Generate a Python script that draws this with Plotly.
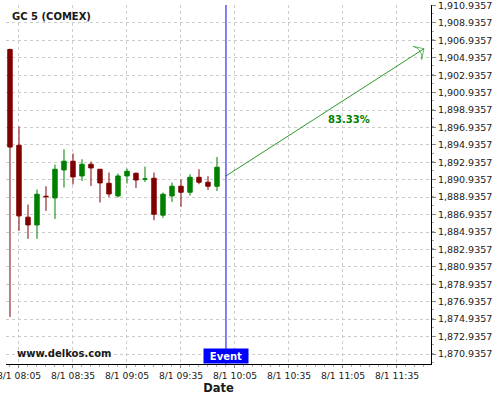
import plotly.graph_objects as go
import pandas as pd

# ---- data ----
times = pd.date_range("2023-08-01 08:00", periods=24, freq="5min")
opens  = [1905.89, 1894.89, 1886.64, 1885.75, 1889.04, 1888.85, 1892.06, 1893.06,
          1891.37, 1892.71, 1892.14, 1890.53, 1889.08, 1891.37, 1891.68, 1891.00,
          1891.11, 1886.87, 1889.08, 1890.19, 1889.50, 1891.22, 1890.65, 1890.19]
highs  = [1905.97, 1897.03, 1888.09, 1889.81, 1890.19, 1892.68, 1894.43, 1893.94,
          1893.29, 1893.02, 1892.14, 1891.76, 1891.65, 1892.22, 1891.76, 1892.45,
          1891.76, 1889.47, 1890.61, 1890.96, 1891.57, 1892.14, 1891.34, 1893.55]
lows   = [1875.18, 1885.07, 1884.15, 1884.15, 1887.36, 1886.44, 1890.04, 1890.39,
          1890.80, 1890.22, 1888.32, 1888.96, 1888.90, 1890.50, 1890.00, 1890.68,
          1886.29, 1886.56, 1888.39, 1887.82, 1889.12, 1890.42, 1889.77, 1889.65]
closes = [1894.69, 1886.79, 1885.75, 1889.27, 1888.99, 1892.14, 1893.06, 1891.26,
          1892.71, 1892.29, 1890.57, 1889.31, 1891.37, 1891.91, 1890.91, 1891.03,
          1886.98, 1889.27, 1890.19, 1889.50, 1891.22, 1890.65, 1890.19, 1892.37]

event_time = "2023-08-01 10:00"
arrow_times = ["2023-08-01 10:00", "2023-08-01 11:50"]
arrow_prices = [1891.37, 1905.97]
probability_label = "83.33%"
title_text = "GC 5 (COMEX)"

RED = "#800000"
GREEN = "#008000"

fig = go.Figure()
fig.add_trace(go.Candlestick(
    x=times, open=opens, high=highs, low=lows, close=closes,
    increasing=dict(line=dict(color=GREEN, width=1), fillcolor=GREEN),
    decreasing=dict(line=dict(color=RED, width=1), fillcolor=RED),
    whiskerwidth=0, showlegend=False, hoverinfo="skip",
))

fig.add_trace(go.Scatter(
    x=arrow_times, y=arrow_prices, mode="lines+markers",
    line=dict(color="#2a9a2a", width=1),
    marker=dict(symbol="arrow-wide-open", size=[0, 11], angleref="previous",
                color="#2a9a2a", line=dict(color="#2a9a2a", width=1)),
    showlegend=False, hoverinfo="skip",
))

fig.add_shape(type="line", x0=event_time, x1=event_time, xref="x",
              y0=0, y1=1, yref="paper", line=dict(color="#0000ff", width=1))

fig.add_annotation(text="<b>Event</b>", x=event_time, xref="x", y=0, yref="paper",
                   xanchor="center", yanchor="bottom", showarrow=False,
                   bgcolor="#0000ff", width=42, height=12, borderpad=1,
                   font=dict(family="DejaVu Sans", size=10, color="white"))

fig.add_annotation(text="<b>" + title_text + "</b>", x=0.009, xref="paper",
                   y=0.969, yref="paper", xanchor="left", yanchor="middle",
                   showarrow=False, font=dict(family="DejaVu Sans", size=10, color="#1a1a1a"))

fig.add_annotation(text="<b>www.delkos.com</b>", x=0.021, xref="paper",
                   y=0.028, yref="paper", xanchor="left", yanchor="middle",
                   showarrow=False, font=dict(family="DejaVu Sans", size=10, color="#1a1a1a"))

fig.add_annotation(text="<b>" + probability_label + "</b>", x=0.807, xref="paper",
                   y=0.680, yref="paper", xanchor="center", yanchor="middle",
                   showarrow=False, font=dict(family="DejaVu Sans", size=10, color=GREEN))

fig.update_layout(
    width=500, height=400,
    margin=dict(l=6, r=69, t=5, b=36, autoexpand=False),
    paper_bgcolor="white", plot_bgcolor="white",
    font=dict(family="DejaVu Sans", color="#1a1a1a"),
    xaxis=dict(
        type="date", rangeslider=dict(visible=False),
        range=["2023-08-01 07:57:47", "2023-08-01 11:53:54"],
        tick0="2023-08-01 08:05", dtick=1800000, tickformat="%-m/%-d %H:%M",
        showgrid=True, gridcolor="#cccccc", griddash="3px,3px", gridwidth=1,
        showline=True, linecolor="black", linewidth=1,
        ticks="outside", ticklen=3, tickcolor="#888",
        minor=dict(dtick=300000, ticks="outside", ticklen=2, tickcolor="#aaa", showgrid=False),
        tickfont=dict(size=9.2, color="#1a1a1a"),
        ticklabeloverflow="allow", automargin=False,
        title=dict(text="<b>Date</b>", font=dict(size=11.5, color="#1a1a1a"), standoff=2),
        zeroline=False,
    ),
    yaxis=dict(
        side="right", range=[1869.79, 1910.99],
        tick0=1870.9357, dtick=2, tickformat=",.4f",
        showgrid=True, gridcolor="#cccccc", griddash="3px,3px", gridwidth=1,
        showline=True, linecolor="black", linewidth=1,
        ticks="outside", ticklen=4, tickcolor="#888",
        minor=dict(dtick=1, ticks="outside", ticklen=2, tickcolor="#aaa", showgrid=False),
        tickfont=dict(size=9.5, color="#1a1a1a"),
        ticklabeloverflow="allow", automargin=False,
        zeroline=False,
    ),
)

fig.write_html("out.html", config={"displayModeBar": False},
               post_script="document.body.style.margin='0';document.body.style.overflow='hidden';")
